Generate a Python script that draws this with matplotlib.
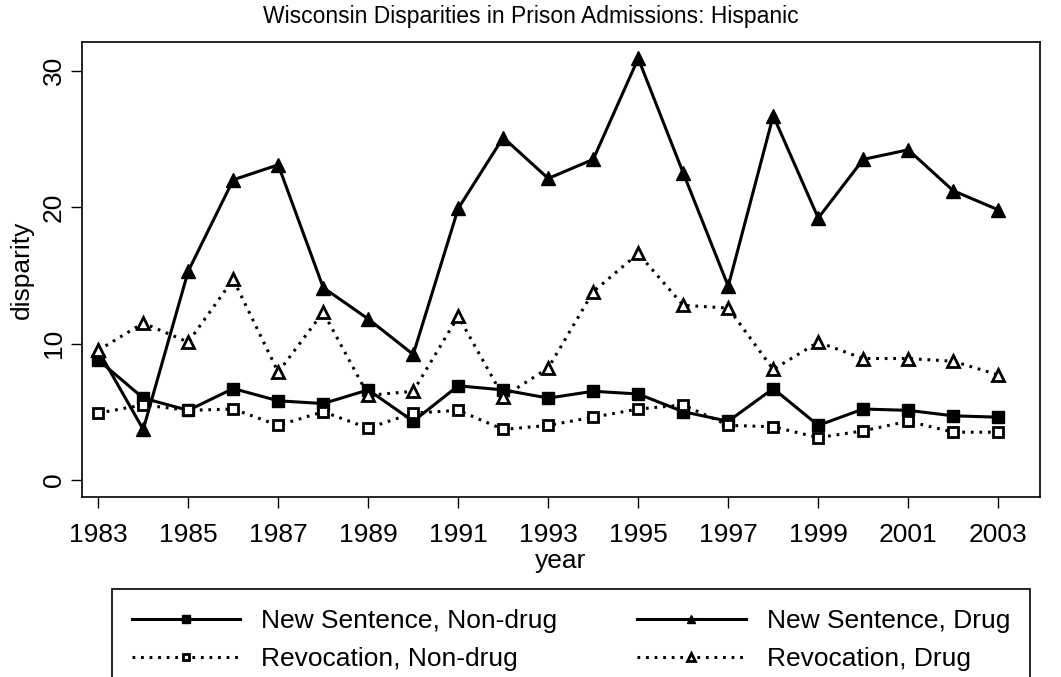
import numpy as np
import matplotlib.pyplot as plt

plt.rcParams['font.family'] = ['Liberation Sans', 'DejaVu Sans']

years = list(range(1983, 2004))
new_nondrug = [8.8, 6.0, 5.1, 6.7, 5.8, 5.6, 6.6, 4.3, 6.9, 6.6, 6.0,
               6.5, 6.3, 5.0, 4.3, 6.7, 4.0, 5.2, 5.1, 4.7, 4.6]
new_drug = [9.5, 3.7, 15.3, 22.0, 23.1, 14.1, 11.8, 9.2, 19.9, 25.1, 22.1,
            23.5, 30.9, 22.5, 14.2, 26.7, 19.2, 23.5, 24.2, 21.2, 19.8]
rev_nondrug = [4.9, 5.5, 5.1, 5.2, 4.0, 5.0, 3.8, 4.9, 5.1, 3.7, 4.0,
               4.6, 5.2, 5.5, 4.0, 3.9, 3.1, 3.6, 4.3, 3.5, 3.5]
rev_drug = [9.5, 11.5, 10.1, 14.7, 7.9, 12.3, 6.2, 6.5, 12.0, 6.1, 8.2,
            13.8, 16.6, 12.8, 12.6, 8.1, 10.1, 8.9, 8.9, 8.7, 7.7]

dots = (0, (0.9, 1.9))

fig = plt.figure(figsize=(10.61, 6.77), dpi=100)
ax = fig.add_axes([0.0773, 0.2659, 0.903, 0.672])

h1, = ax.plot(years, new_nondrug, color="black", lw=2.2, marker="s", ms=8.5,
              label="New Sentence, Non-drug")
h2, = ax.plot(years, new_drug, color="black", lw=2.2, marker="^", ms=10.5,
              label="New Sentence, Drug")
h3, = ax.plot(years, rev_nondrug, color="black", lw=2.2, ls=dots, marker="s", ms=7.5,
              mfc="white", mec="black", mew=2, label="Revocation, Non-drug")
h4, = ax.plot(years, rev_drug, color="black", lw=2.2, ls=dots, marker="^", ms=9,
              mfc="white", mec="black", mew=2, label="Revocation, Drug")

ax.set_xlim(1982.64, 2003.93)
ax.set_ylim(-1.25, 32.1)
ax.set_xticks(range(1983, 2004, 2))
ax.set_yticks([0, 10, 20, 30])
ax.tick_params(axis="both", labelsize=19, length=8, width=1, direction="out")
ax.tick_params(axis="x", pad=11)
for lbl in ax.get_yticklabels():
    lbl.set_rotation(90)
    lbl.set_va("center")
for s in ax.spines.values():
    s.set_linewidth(1.2)

ax.set_xlabel("year", fontsize=19, labelpad=1)
ax.set_ylabel("disparity", fontsize=19, labelpad=6)
fig.suptitle("Wisconsin Disparities in Prison Admissions: Hispanic", fontsize=16.5,
             x=0.5, y=0.993, va="top")

# legend fills row by row like the original
handles = [h1, h3, h2, h4]
leg = fig.legend(handles, [h.get_label() for h in handles],
                 loc="upper left", bbox_to_anchor=(0.1056, -0.2, 0.865, 0.33),
                 mode="expand", ncol=2, fontsize=19, handlelength=4.1,
                 handletextpad=0.8, markerscale=0.6, frameon=True, fancybox=False,
                 edgecolor="black", framealpha=1, borderaxespad=0,
                 labelspacing=0.55, borderpad=0.75)
leg.get_frame().set_linewidth(1.2)

fig.savefig("out.png", dpi=100)
